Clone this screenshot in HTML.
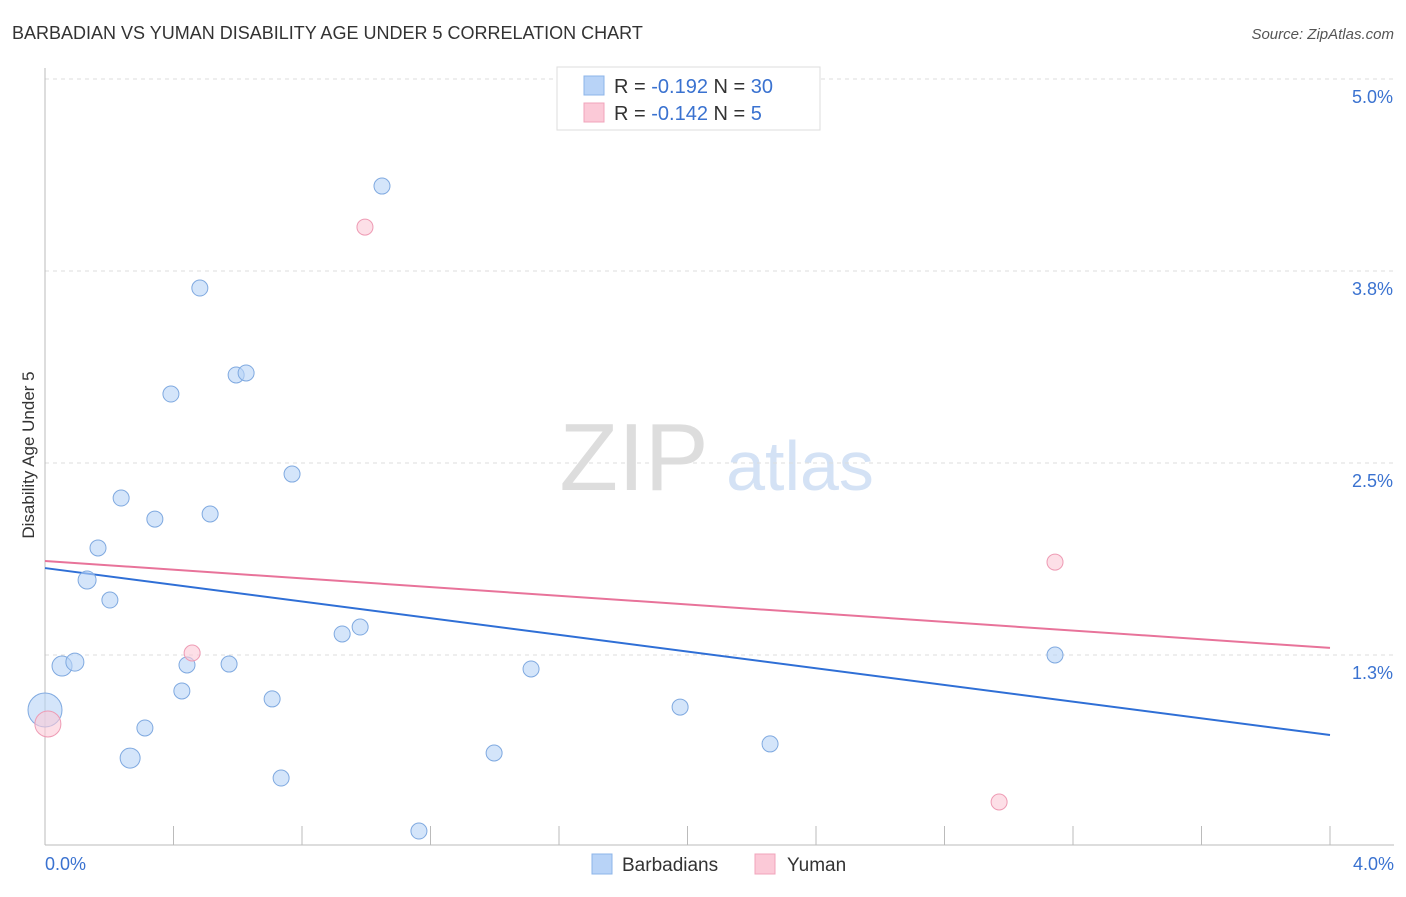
<!DOCTYPE html>
<html><head><meta charset="utf-8"><style>
body{margin:0;background:#fff;font-family:"Liberation Sans",sans-serif;}
svg text{font-family:"Liberation Sans",sans-serif;}
</style></head><body>
<svg id="chart" width="1406" height="892" xmlns="http://www.w3.org/2000/svg">
<text x="12" y="39" font-size="18" fill="#333">BARBADIAN VS YUMAN DISABILITY AGE UNDER 5 CORRELATION CHART</text>
<text x="1394" y="39" font-size="15" fill="#555" text-anchor="end" font-style="italic">Source: ZipAtlas.com</text>
<g>
<text x="634" y="490" font-size="96" fill="#ddd" text-anchor="middle" font-family="Liberation Serif, serif">ZIP</text>
<text x="800" y="490" font-size="70" fill="#d4e2f5" text-anchor="middle">atlas</text>
</g>
<g id="grid"></g><g id="axes"></g><g id="lines"></g><g id="points"></g>
<text transform="translate(34,455) rotate(-90)" font-size="17" fill="#333" text-anchor="middle">Disability Age Under 5</text>
<g>
<rect x="557" y="67" width="263" height="63" fill="#fff" stroke="#ddd"/>
<rect x="584" y="76" width="20" height="19" fill="#b8d3f7" stroke="#8cb4ea"/>
<rect x="584" y="103" width="20" height="19" fill="#fbc9d7" stroke="#f0a4bb"/>
<text x="614" y="93" font-size="20" fill="#333">R = <tspan fill="#3a72d0">-0.192</tspan>   N = <tspan fill="#3a72d0">30</tspan></text>
<text x="614" y="120" font-size="20" fill="#333">R = <tspan fill="#3a72d0">-0.142</tspan>   N = <tspan fill="#3a72d0">  5</tspan></text>
</g>
<g>
<rect x="592" y="854" width="20" height="20" fill="#b8d3f7" stroke="#8cb4ea"/>
<text x="622" y="871" font-size="19" fill="#333">Barbadians</text>
<rect x="755" y="854" width="20" height="20" fill="#fbc9d7" stroke="#f0a4bb"/>
<text x="787" y="871" font-size="19" fill="#333">Yuman</text>
</g>
</svg>
<script>
const yTicks=[5.0,3.75,2.5,1.25];
const yTickLabels=["5.0%","3.8%","2.5%","1.3%"];
const xTicks=[0,0.4,0.8,1.2,1.6,2.0,2.4,2.8,3.2,3.6,4.0];
const blueX=[0.000,0.053,0.093,0.131,0.165,0.202,0.237,0.265,0.311,0.342,0.392,0.426,0.442,0.482,0.514,0.573,0.595,0.626,0.707,0.735,0.769,0.925,0.981,1.049,1.164,1.398,1.513,1.977,2.257,3.144];
const blueY=[0.892,1.178,1.204,1.738,1.947,1.608,2.272,0.579,0.775,2.135,2.949,1.016,1.185,3.639,2.168,1.191,3.073,3.086,0.964,0.449,2.428,1.387,1.432,4.303,0.104,0.612,1.159,0.911,0.671,1.250];
const blueR=[17,10,9,9,8,8,8,10,8,8,8,8,8,8,8,8,8,8,8,8,8,8,8,8,8,8,8,8,8,8];
const pinkX=[0.009,0.458,0.996,2.970,3.144];
const pinkY=[0.801,1.263,4.036,0.293,1.855];
const pinkR=[13,8,8,8,8];
const blueTrend=[1.816,0.729];
const pinkTrend=[1.862,1.296];
const X=v=>45+v/4*1285, Y=v=>79+(5-v)*153.6;
const NS="http://www.w3.org/2000/svg";
function mk(p,t,a){const e=document.createElementNS(NS,t);for(const k in a)e.setAttribute(k,a[k]);document.getElementById(p).appendChild(e);return e;}
yTicks.forEach((t,i)=>{
 const g=mk('grid','line',{x1:45,x2:1394,y1:Y(t),y2:Y(t),stroke:'#ddd','stroke-dasharray':'4,4'});
 
 
 const l=mk('axes','text',{x:1393,y:Y(t)+24,'font-size':18,fill:'#3a72d0','text-anchor':'end'});
 l.textContent=yTickLabels[i];
 
 
});
const ax=mk('axes','line',{x1:45,x2:1394,y1:845,y2:845,stroke:'#bbb'});


const ay=mk('axes','line',{x1:45,x2:45,y1:68,y2:845,stroke:'#bbb'});


xTicks.forEach(t=>{const k=mk('axes','line',{x1:X(t),x2:X(t),y1:826,y2:845,stroke:'#bbb'});
 
 });
[[0,"0.0%",'start',45],[4,"4.0%",'end',1394]].forEach(d=>{const l=mk('axes','text',{x:d[3],y:870,'font-size':18,fill:'#3a72d0','text-anchor':d[2]});l.textContent=d[1];
 
 });
blueX.forEach((x,i)=>{const c=mk('points','circle',{cx:X(x),cy:Y(blueY[i]),r:blueR[i],fill:'rgba(184,211,247,0.6)',stroke:'#7fa9e0','stroke-width':1});
 
 });
pinkX.forEach((x,i)=>{const c=mk('points','circle',{cx:X(x),cy:Y(pinkY[i]),r:pinkR[i],fill:'rgba(251,201,215,0.6)',stroke:'#ee9bb4','stroke-width':1});
 
 });
const bl=mk('lines','line',{x1:X(0),y1:Y(blueTrend[0]),x2:X(4),y2:Y(blueTrend[1]),stroke:'#2f6fd6','stroke-width':2});


const pl=mk('lines','line',{x1:X(0),y1:Y(pinkTrend[0]),x2:X(4),y2:Y(pinkTrend[1]),stroke:'#e8739a','stroke-width':2});


</script>
</body></html>
